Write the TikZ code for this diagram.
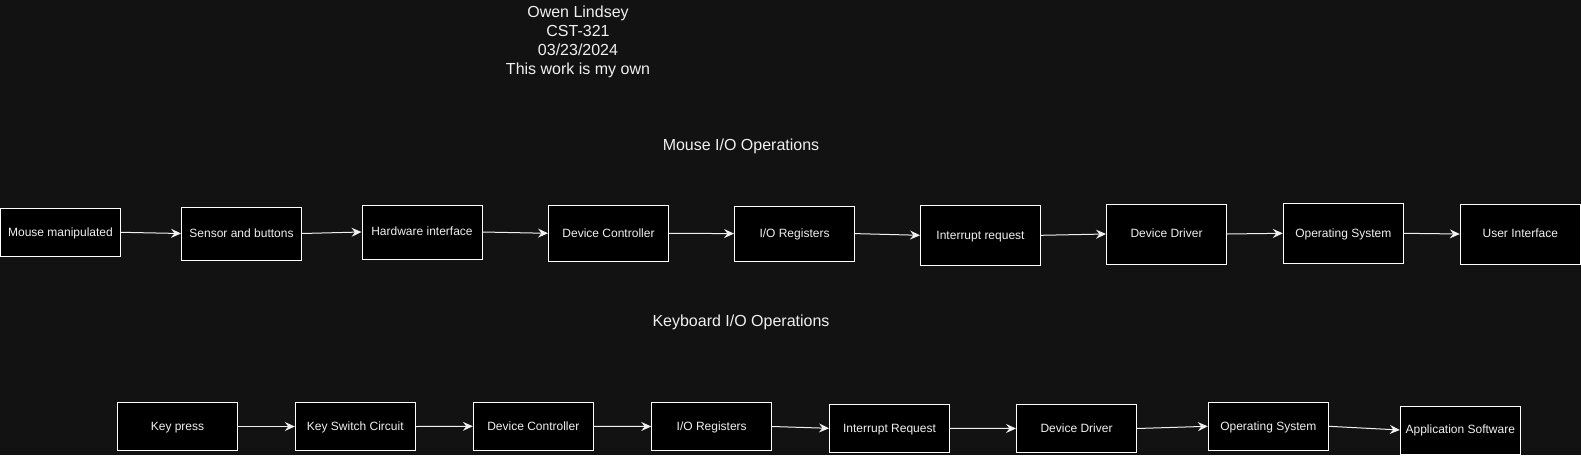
\documentclass[tikz,border=0pt]{standalone}
\usepackage{fontspec}
\setmainfont{Liberation Sans}
\usetikzlibrary{arrows.meta}
\definecolor{bg}{RGB}{18,18,18}
\definecolor{fg}{RGB}{240,240,240}
\begin{document}
\begin{tikzpicture}[x=1pt,y=-1pt,
  box/.style={draw=white, line width=1pt, fill=black, text=fg,
    font=\fontsize{12}{14.4}\selectfont, inner sep=0pt,
    text height=9.5pt, text depth=2pt, align=center,
    minimum width=120pt, minimum height=48pt},
  flow/.style={draw=fg, line width=1pt, -{Stealth[length=10pt,width=9pt,inset=3.5pt]}},
  heading/.style={text=fg, font=\fontsize{16}{19.2}\selectfont, inner sep=0pt, align=center}]
\fill[bg] (0,0) rectangle (1581,455);
\useasboundingbox (0,0) rectangle (1581,455);

% title block
\node[heading] (title) at (578,41.7) {Owen Lindsey\\CST-321\\03/23/2024\\This work is my own};
\node[heading, anchor=base] (mouseh) at (741,150) {Mouse I/O Operations};
\node[heading, anchor=base] (keyh) at (741,326) {Keyboard I/O Operations};

% mouse row
\node[box, minimum height=48pt] (m1) at (60.5,232.3) {Mouse manipulated};
\node[box, minimum height=53pt] (m2) at (241.5,233.5) {Sensor and buttons};
\node[box, minimum height=54pt] (m3) at (422,232) {Hardware interface};
\node[box, minimum height=56pt] (m4) at (608.5,233.3) {Device Controller};
\node[box, minimum height=55pt] (m5) at (794.5,233.6) {I/O Registers};
\node[box, minimum height=60pt] (m6) at (980.5,235.3) {Interrupt request};
\node[box, minimum height=60pt] (m7) at (1166.5,234) {Device Driver};
\node[box, minimum height=60pt] (m8) at (1343.3,233.3) {Operating System};
\node[box, minimum height=60pt] (m9) at (1520.3,234) {User Interface};

\foreach \a/\b in {m1/m2,m2/m3,m3/m4,m4/m5,m5/m6,m6/m7,m7/m8,m8/m9}
  \draw[flow] (\a.east) -- (\b.west);

% keyboard row
\node[box] (k1) at (177.5,426.5) {Key press};
\node[box] (k2) at (355.3,426.5) {Key Switch Circuit};
\node[box] (k3) at (533.3,426.3) {Device Controller};
\node[box] (k4) at (711.7,426.5) {I/O Registers};
\node[box] (k5) at (889.5,428.3) {Interrupt Request};
\node[box] (k6) at (1076.5,428.5) {Device Driver};
\node[box] (k7) at (1268.3,426.3) {Operating System};
\node[box] (k8) at (1460.3,430) {Application Software};

\foreach \a/\b in {k1/k2,k2/k3,k3/k4,k4/k5,k5/k6,k6/k7,k7/k8}
  \draw[flow] (\a.east) -- (\b.west);
\end{tikzpicture}
\end{document}
